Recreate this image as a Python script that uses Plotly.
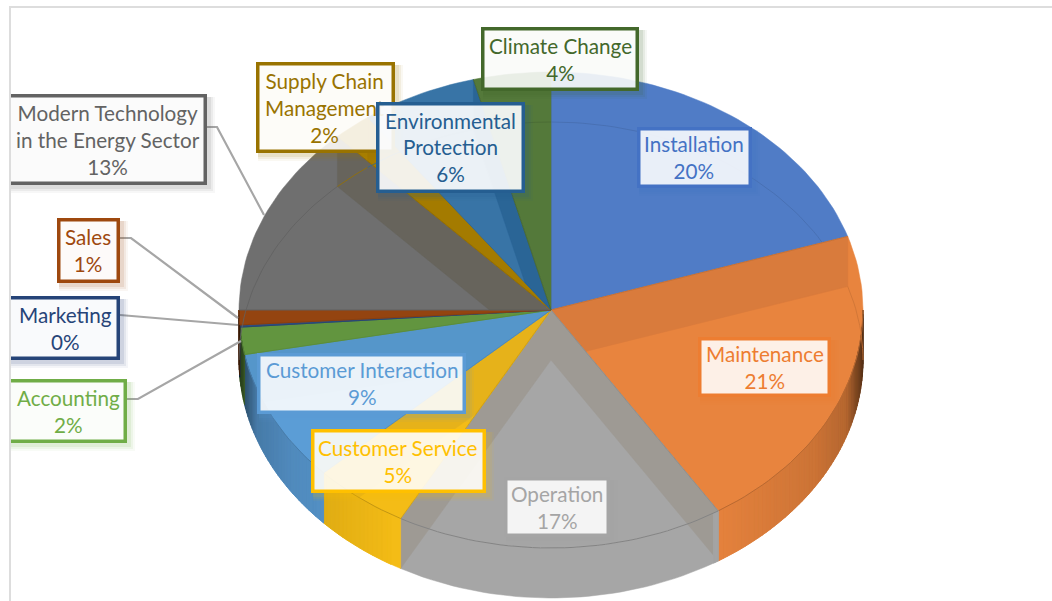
import math
import plotly.graph_objects as go

# ---- data ----
categories = ["Installation", "Maintenance", "Operation", "Customer Service",
              "Customer Interaction", "Accounting", "Marketing", "Sales",
              "Modern Technology in the Energy Sector", "Supply Chain Management",
              "Environmental Protection", "Climate Change"]
values = [20, 21, 17, 5, 9, 1.85, 0.15, 1, 13, 2, 6, 4]
label_lines = ["Installation", "Maintenance", "Operation", "Customer Service",
               "Customer Interaction", "Accounting", "Marketing", "Sales",
               "Modern Technology<br>in the Energy Sector", "Supply Chain<br>Management",
               "Environmental<br>Protection", "Climate Change"]

# ---- styles ----
palette = ["#4472C4", "#ED7D31", "#A5A5A5", "#FFC000", "#5B9BD5", "#70AD47",
           "#264478", "#9E480E", "#636363", "#997300", "#255E91", "#43682B"]
face = ["#507CC6", "#E8843E", "#A6A6A6", "#F4BC16", "#5B9DD6", "#6BA547",
        "#2F4F80", "#A04A12", "#6F6F6F", "#AC8100", "#3874A6", "#54793A"]
band = ["#507CC6", "#D97B3C", "#9E9A94", "#E6B21A", "#5596CA", "#62953F",
        "#2F4F80", "#944410", "#67645C", "#A47B00", "#2A6596", "#54793A"]
# outer box edges: x0, x1, y0, y1
boxes = [(637, 752, 127, 188), (698, 831, 337, 397), (504, 610, 477, 537),
         (311, 486, 429, 493), (257, 466, 353, 414), (0, 127, 379, 443),
         (0, 120, 296, 360), (57, 120, 218, 283), (0, 207, 94, 185),
         (256, 395, 62, 153), (376, 525, 102, 193), (481, 639, 27, 91)]
text_cx = [694, 765, 557, 398, 362, 68, 65, 88, 108, 325, 451, 560]
leaders = {5: [(127, 399), (138, 399), (241, 341)],
           6: [(120, 315), (238, 325)],
           7: [(120, 238), (131, 238), (238, 318)],
           8: [(207, 127), (217, 127), (264, 215)]}
cx, cy, rx, ry, depth = 551, 310, 312, 238, 50
FONT = "Lato"
FONT_SIZE = 20.7
BORDER = 3.5
shade_sn = [0.5, 0.84, 0.945, 0.99, 1.0]
shade_f = [1.0, 0.88, 0.78, 0.45, 0.35]


def rim(deg, y0):
    t = math.radians(deg)
    return (cx + rx * math.sin(t), y0 - ry * math.cos(t))


def arc(a, b, y0):
    n = max(2, int(abs(b - a) / 1.5) + 1)
    return [rim(a + (b - a) * i / n, y0) for i in range(n + 1)]


def clip(subject, convex):
    area = sum(convex[i][0] * convex[(i + 1) % len(convex)][1] -
               convex[(i + 1) % len(convex)][0] * convex[i][1] for i in range(len(convex)))
    s = 1 if area > 0 else -1
    out = list(subject)
    for i in range(len(convex)):
        a, b = convex[i], convex[(i + 1) % len(convex)]
        side = lambda p: s * ((b[0] - a[0]) * (p[1] - a[1]) - (b[1] - a[1]) * (p[0] - a[0]))
        cur, out = out, []
        for j in range(len(cur)):
            p, q = cur[j], cur[(j + 1) % len(cur)]
            sp, sq = side(p), side(q)
            if sp >= 0:
                out.append(p)
            if sp * sq < 0:
                k = sp / (sp - sq)
                out.append((p[0] + (q[0] - p[0]) * k, p[1] + (q[1] - p[1]) * k))
        if not out:
            return []
    return out


def shade(sn):
    if sn <= shade_sn[0]:
        return 1.0
    for j in range(len(shade_sn) - 1):
        if sn <= shade_sn[j + 1]:
            k = (sn - shade_sn[j]) / (shade_sn[j + 1] - shade_sn[j])
            return shade_f[j] + (shade_f[j + 1] - shade_f[j]) * k
    return shade_f[-1]


def poly(pts, color, name, line=None, width=0.5):
    xs = [p[0] for p in pts] + [pts[0][0]]
    ys = [p[1] for p in pts] + [pts[0][1]]
    fig.add_trace(go.Scatter(x=xs, y=ys, mode="lines", fill="toself", fillcolor=color,
                             line=dict(color=line or color, width=width), name=name,
                             hoverinfo="skip", showlegend=False))


def stroke(pts, color, width, name):
    fig.add_trace(go.Scatter(x=[p[0] for p in pts], y=[p[1] for p in pts], mode="lines",
                             line=dict(color=color, width=width), name=name,
                             hoverinfo="skip", showlegend=False))


def scale(hexc, f):
    r, g, b = (int(hexc[i:i + 2], 16) for i in (1, 3, 5))
    return f"rgb({int(r * f)},{int(g * f)},{int(b * f)})"


fig = go.Figure()
total = sum(values)
edges = [0]
for v in values:
    edges.append(edges[-1] + v / total * 360)

for i, name in enumerate(categories):
    a, b = edges[i], edges[i + 1]
    top = [(cx, cy)] + arc(a, b, cy)
    pieces = [top]
    fa, fb = max(a, 90), min(b, 270)
    if fa < fb:
        pieces.append(arc(fa, fb, cy) + arc(fb, fa, cy + depth))
    for p in pieces:
        poly(p, face[i], name)
    # inner radial walls seen through the translucent slice
    for th in (a, b):
        e = rim(th, cy)
        wall = [(cx, cy), e, (e[0], e[1] + depth), (cx, cy + depth)]
        if abs(e[0] - cx) < 1:
            continue
        for p in pieces:
            c = clip(p, wall)
            if len(c) >= 3:
                poly(c, band[i], name)
    # shading of the outer wall towards the silhouette
    if fa < fb:
        n = max(1, int((fb - fa) / 1.0))
        for k in range(n):
            s0, s1 = fa + (fb - fa) * k / n, fa + (fb - fa) * (k + 1) / n
            f = shade(abs(math.sin(math.radians((s0 + s1) / 2))))
            if f < 0.995:
                poly(arc(s0, s1, cy) + arc(s1, s0, cy + depth), scale(face[i], f), name, width=0.8)
    # rim lines
    edge_col = scale(face[i], 0.8)
    stroke([(cx, cy), rim(a, cy)], edge_col, 0.6, name)
    if fa < fb:
        stroke(arc(fa, fb, cy), edge_col, 1, name)
    for r0, r1 in ((a, min(b, 90)), (max(a, 270), b)):
        if r0 < r1:
            stroke(arc(r0, r1, cy + depth), scale(face[i], 0.88), 0.8, name)

shapes = []


def rect(x0, x1, y0, y1, **kw):
    shapes.append(dict(type="rect", x0=x0, x1=x1, y0=y0, y1=y1, xref="x", yref="y", **kw))


# leader lines
for idx, pts in leaders.items():
    d = "M " + " L ".join(f"{x} {y}" for x, y in pts)
    shapes.append(dict(type="path", path=d, xref="x", yref="y",
                       line=dict(color="#A6A6A6", width=2.2)))

annotations = []
for i in range(len(categories)):
    x0, x1, y0, y1 = boxes[i]
    col = palette[i]
    left = max(x0, 8)
    for off, op in ((8, 0.05), (6, 0.08), (4, 0.11)):
        rect(left + 2, x1 + off, y0 + 3, y1 + off, fillcolor=col, opacity=op, line=dict(width=0), layer="above")
    white = "rgba(255,255,255,0.88)"
    text = f"{label_lines[i]}<br>{round(values[i])}%"
    ann = dict(x=text_cx[i], y=(y0 + y1) / 2, xref="x", yref="y", text=text, showarrow=False,
               xanchor="center", yanchor="middle", align="center",
               font=dict(family=FONT, size=FONT_SIZE, color=col))
    h = BORDER / 2
    if i == 10:
        ann.update(x=(x0 + x1) / 2, width=x1 - x0 - 2 * BORDER, height=y1 - y0 - 2 * BORDER,
                   bgcolor="rgba(255,255,255,0.90)", bordercolor=col, borderwidth=BORDER, borderpad=0)
    elif x0 == 0:
        d = f"M 11 {y0 + h} L {x1 - h} {y0 + h} L {x1 - h} {y1 - h} L 11 {y1 - h}"
        shapes.append(dict(type="path", path=d, xref="x", yref="y", fillcolor=white,
                           line=dict(color=col, width=BORDER)))
    else:
        rect(x0 + h, x1 - h, y0 + h, y1 - h, fillcolor=white, line=dict(color=col, width=BORDER))
    annotations.append(ann)

# chart frame
shapes.append(dict(type="path", path="M 10 601 L 10 7 L 1052 7", xref="x", yref="y",
                   line=dict(color="#DDDDDD", width=2)))

fig.update_layout(
    width=1052, height=601, margin=dict(l=0, r=0, t=0, b=0),
    paper_bgcolor="white", plot_bgcolor="white", showlegend=False,
    xaxis=dict(range=[0, 1052], visible=False, fixedrange=True),
    yaxis=dict(range=[601, 0], visible=False, fixedrange=True),
    shapes=shapes, annotations=annotations,
)
fig.write_html("out.html", config=dict(displayModeBar=False),
               post_script="document.body.style.margin='0';")
